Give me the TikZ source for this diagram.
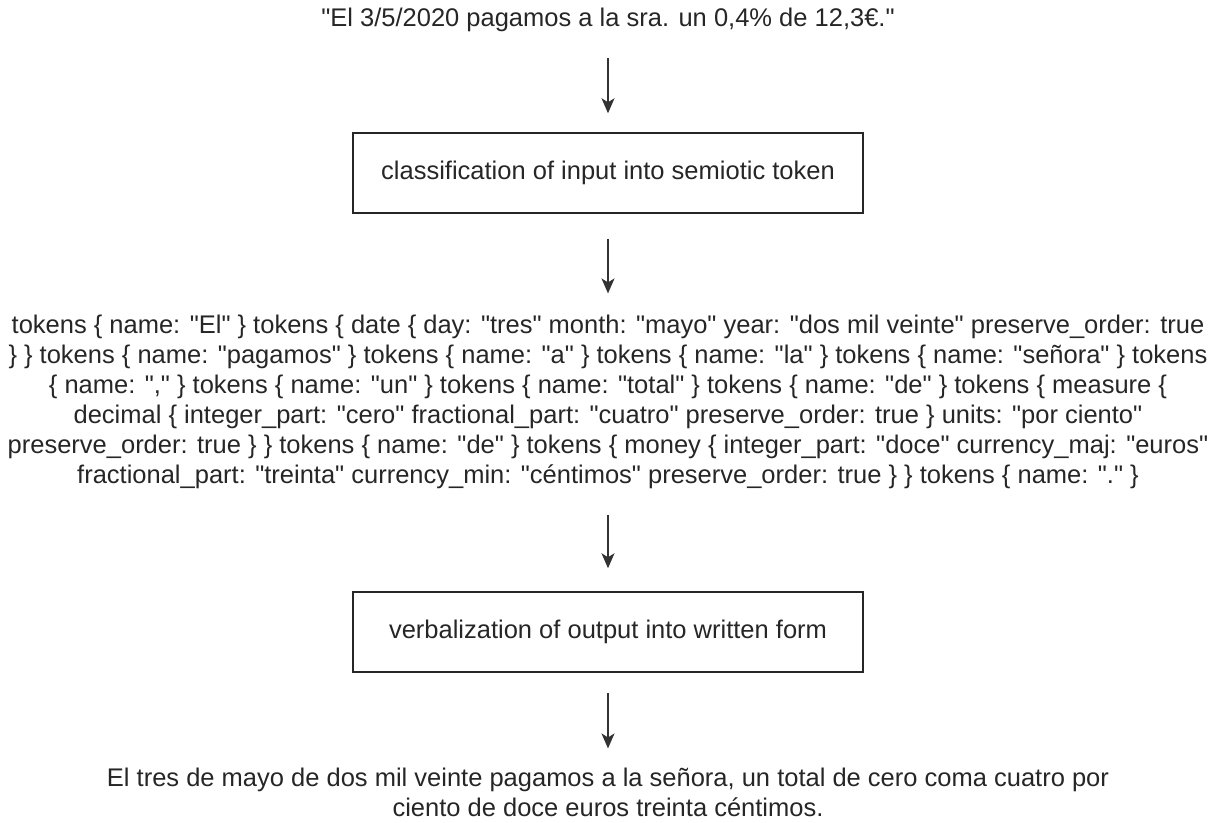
\documentclass[tikz,border=0pt]{standalone}
\usepackage{fontspec}
\setmainfont{Liberation Sans}[Ligatures=TeXOff]
\usetikzlibrary{arrows.meta}

\tikzset{
  txt/.style={inner sep=0pt, align=center, font=\fontsize{25.5}{30}\selectfont, text=black!85},
  stage/.style={draw=black!85, line width=1.5pt, minimum width=510pt, minimum height=80pt,
    inner sep=0pt, font=\fontsize{25.5}{30}\selectfont, text=black!85},
  arr/.style={draw=black!80, line width=1.5pt, -{Stealth[length=15pt,width=13pt,inset=4pt]}}
}

\begin{document}
\begin{tikzpicture}[x=1pt,y=-1pt]
  \useasboundingbox (0,0) rectangle (1209,822);

  % input sentence
  \node[txt] (in) at (608,20) {"El 3/5/2020 pagamos a la sra. un 0,4\% de 12,3€."};

  % first stage: classification
  \node[stage] (cls) at (608,173) {classification of input into semiotic token};

  % serialized semiotic tokens
  \node[txt] (tok) at (608,401.5) {%
    tokens \{ name: "El" \} tokens \{ date \{ day: "tres" month: "mayo" year: "dos mil veinte" preserve\_order: true\\
    \} \} tokens \{ name: "pagamos" \} tokens \{ name: "a" \} tokens \{ name: "la" \} tokens \{ name: "señora" \} tokens\\
    \{ name: "," \} tokens \{ name: "un" \} tokens \{ name: "total" \} tokens \{ name: "de" \} tokens \{ measure \{\\
    decimal \{ integer\_part: "cero" fractional\_part: "cuatro" preserve\_order: true \} units: "por ciento"\\
    preserve\_order: true \} \} tokens \{ name: "de" \} tokens \{ money \{ integer\_part: "doce" currency\_maj: "euros"\\
    fractional\_part: "treinta" currency\_min: "céntimos" preserve\_order: true \} \} tokens \{ name: "." \}};

  % second stage: verbalization
  \node[stage] (verb) at (608,632) {verbalization of output into written form};

  % spoken-form output
  \node[txt] (out) at (608,792) {El tres de mayo de dos mil veinte pagamos a la señora, un total de cero coma cuatro por\\
    ciento de doce euros treinta céntimos.};

  \draw[arr, shorten <=26pt, shorten >=19pt] (in.south) -- (cls.north);
  \draw[arr, shorten <=25pt, shorten >=21pt] (cls.south) -- (tok.north);
  \draw[arr, shorten <=26pt, shorten >=23pt] (tok.south) -- (verb.north);
  \draw[arr, shorten <=20pt, shorten >=19pt] (verb.south) -- (out.north);
\end{tikzpicture}
\end{document}
